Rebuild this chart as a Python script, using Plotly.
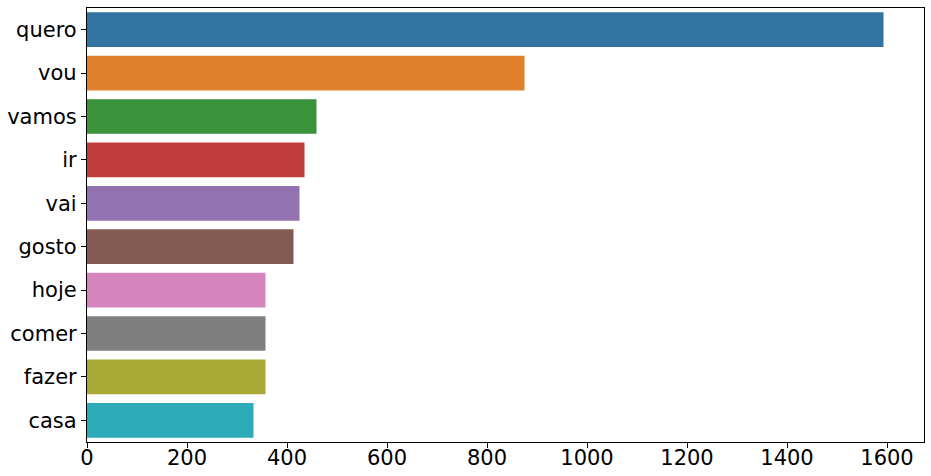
import plotly.graph_objects as go

words = ["quero", "vou", "vamos", "ir", "vai", "gosto", "hoje", "comer", "fazer", "casa"]
counts = [1593, 875, 459, 435, 425, 413, 357, 357, 357, 333]
colors = ["#3274a1", "#e1812c", "#3a923a", "#c03d3e", "#9372b2",
          "#845b53", "#d684bd", "#7f7f7f", "#a9aa35", "#2eabb8"]
x_ticks = [0, 200, 400, 600, 800, 1000, 1200, 1400, 1600]

fig = go.Figure(go.Bar(
    x=counts, y=words, orientation="h",
    marker=dict(color=colors, line=dict(width=0)),
    width=0.8,
))

fig.update_layout(
    width=931, height=476,
    margin=dict(l=87, r=7, t=8, b=34, autoexpand=False),
    plot_bgcolor="white", paper_bgcolor="white",
    showlegend=False,
    font=dict(family="DejaVu Sans", size=21, color="black"),
)
fig.update_xaxes(
    range=[0, 1674], tickvals=x_ticks, ticktext=[str(v) for v in x_ticks],
    showgrid=False, zeroline=False, automargin=False,
    showline=True, linecolor="black", linewidth=1.2, mirror=True,
    ticks="outside", ticklen=5, tickcolor="black", tickwidth=1,
    ticklabelstandoff=-8,
    tickfont=dict(size=21, color="black"),
)
fig.update_yaxes(
    categoryorder="array", categoryarray=words,
    range=[9.5, -0.5], automargin=False,
    showgrid=False, zeroline=False,
    showline=True, linecolor="black", linewidth=1.2, mirror=True,
    ticks="outside", ticklen=5, tickcolor="black", tickwidth=1,
    tickfont=dict(size=21, color="black"),
)

fig.write_html(
    "out.html",
    config={"displayModeBar": False},
    post_script="document.body.style.margin='0';document.body.style.overflow='hidden';",
)
